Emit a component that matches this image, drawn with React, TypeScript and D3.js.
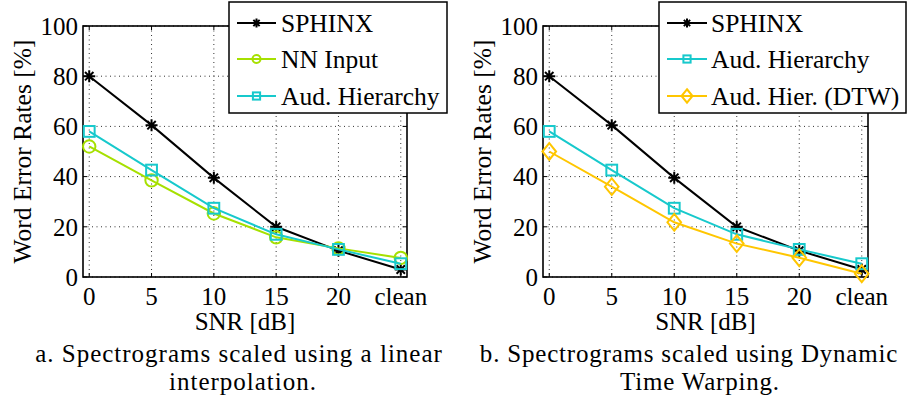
import React from "react";
import * as d3 from "d3";

const categories = ["0", "5", "10", "15", "20", "clean"];
const yTicks = [0, 20, 40, 60, 80, 100];
const sphinx = [80, 60.5, 39.5, 20, 10.5, 3];
const nnInput = [52, 38.5, 25.3, 15.8, 11.4, 7.6];
const audHierarchy = [58, 42.6, 27.4, 17, 11, 5.3];
const audHierDTW = [50, 36, 21.8, 13.3, 7.7, 1.3];

const FONT = "'Liberation Serif', 'Times New Roman', 'DejaVu Serif', serif";
const BLACK = "#000000";
const GREEN = "#A6E000";
const CYAN = "#17C9CC";
const GOLD = "#FFC600";

type Marker = "star" | "circle" | "square" | "diamond";
type Series = { name: string; values: number[]; color: string; marker: Marker };

function MarkerShape({ type, x, y, s, color }: { type: Marker; x: number; y: number; s: number; color: string }) {
  const sw = 2;
  if (type === "star") {
    const d = s * 0.7;
    const p = `M${-s},0L${s},0M0,${-s}L0,${s}M${-d},${-d}L${d},${d}M${-d},${d}L${d},${-d}`;
    return <path d={p} transform={`translate(${x},${y})`} stroke={color} strokeWidth={sw} fill="none" />;
  }
  if (type === "circle") {
    return <circle cx={x} cy={y} r={s} stroke={color} strokeWidth={sw} fill="none" />;
  }
  if (type === "square") {
    return <rect x={x - s} y={y - s} width={2 * s} height={2 * s} stroke={color} strokeWidth={sw} fill="none" />;
  }
  const h = s * 1.35;
  const w = s * 1.1;
  return (
    <path
      d={`M${x},${y - h}L${x + w},${y}L${x},${y + h}L${x - w},${y}Z`}
      stroke={color}
      strokeWidth={sw}
      fill="none"
    />
  );
}

const markerSize: Record<Marker, number> = { star: 6, circle: 6.2, square: 5.4, diamond: 6.2 };
const legendMarkerSize: Record<Marker, number> = { star: 4.5, circle: 4, square: 3.6, diamond: 5 };

function T(props: any) {
  const { size, children, style, ...rest } = props;
  return (
    <text {...rest} fontFamily={FONT} fontSize={size} style={{ fontFamily: FONT, fontSize: size + "px", ...(style || {}) }}>
      {children}
    </text>
  );
}

function Panel({
  left,
  right,
  series,
  legend,
  ylabelX,
  captions,
}: {
  left: number;
  right: number;
  series: Series[];
  legend: { x0: number; x1: number; lineX0: number; lineX1: number; textX: number };
  ylabelX: number;
  captions: { text: string; x: number; y: number; ls: number }[];
}) {
  const top = 26;
  const bottom = 277;
  const x = d3.scaleLinear().domain([-0.1, 5.1]).range([left, right]);
  const y = d3.scaleLinear().domain([0, 100]).range([bottom, top]);
  const line = d3
    .line<number>()
    .x((_, i) => x(i))
    .y((v) => y(v));
  const legendRows = [23, 59, 96];
  return (
    <g>
      {categories.map((_, i) => (
        <line key={"gx" + i} x1={x(i)} x2={x(i)} y1={top} y2={bottom} stroke="#333" strokeWidth={1} strokeDasharray="1,3.5" />
      ))}
      {yTicks.map((t) => (
        <line key={"gy" + t} x1={left} x2={right} y1={y(t)} y2={y(t)} stroke="#333" strokeWidth={1} strokeDasharray="1,3.5" />
      ))}
      {yTicks.map((t) => (
        <g key={"ty" + t}>
          <line x1={left} x2={left + 4} y1={y(t)} y2={y(t)} stroke={BLACK} strokeWidth={1} />
          <line x1={right} x2={right - 4} y1={y(t)} y2={y(t)} stroke={BLACK} strokeWidth={1} />
          <T x={left - 5} y={y(t)} dy="0.35em" textAnchor="end" size={25}>
            {t}
          </T>
        </g>
      ))}
      {categories.map((c, i) => (
        <g key={"tx" + i}>
          <line x1={x(i)} x2={x(i)} y1={bottom} y2={bottom - 4} stroke={BLACK} strokeWidth={1} />
          <line x1={x(i)} x2={x(i)} y1={top} y2={top + 4} stroke={BLACK} strokeWidth={1} />
          <T x={x(i)} y={305} textAnchor="middle" size={25}>
            {c}
          </T>
        </g>
      ))}
      <rect x={left} y={top} width={right - left} height={bottom - top} fill="none" stroke={BLACK} strokeWidth={1.6} />
      {series.map((s) => (
        <g key={s.name}>
          <path d={line(s.values) || ""} fill="none" stroke={s.color} strokeWidth={2} />
          {s.values.map((v, i) => (
            <MarkerShape key={i} type={s.marker} x={x(i)} y={y(v)} s={markerSize[s.marker]} color={s.color} />
          ))}
        </g>
      ))}
      <T
        transform={`translate(${ylabelX},${(top + bottom) / 2}) rotate(-90)`}
        textAnchor="middle"
        dy="0.35em"
        size={25.5}
      >
        Word Error Rates [%]
      </T>
      <T x={(left + right) / 2} y={330} textAnchor="middle" size={25}>
        SNR [dB]
      </T>
      <rect x={legend.x0} y={2} width={legend.x1 - legend.x0} height={111} fill="#fff" stroke={BLACK} strokeWidth={1.5} />
      {series.map((s, k) => (
        <g key={"lg" + s.name}>
          <line x1={legend.lineX0} x2={legend.lineX1} y1={legendRows[k]} y2={legendRows[k]} stroke={s.color} strokeWidth={2} />
          <MarkerShape
            type={s.marker}
            x={(legend.lineX0 + legend.lineX1) / 2}
            y={legendRows[k]}
            s={legendMarkerSize[s.marker]}
            color={s.color}
          />
          <T x={legend.textX} y={legendRows[k] + 9} size={25.5}>
            {s.name}
          </T>
        </g>
      ))}
      {captions.map((c, i) => (
        <T key={"cap" + i} x={c.x} y={c.y} textAnchor="middle" size={25} style={{ letterSpacing: c.ls + "px" }}>
          {c.text}
        </T>
      ))}
    </g>
  );
}

export default function App() {
  const seriesA: Series[] = [
    { name: "SPHINX", values: sphinx, color: BLACK, marker: "star" },
    { name: "NN Input", values: nnInput, color: GREEN, marker: "circle" },
    { name: "Aud. Hierarchy", values: audHierarchy, color: CYAN, marker: "square" },
  ];
  const seriesB: Series[] = [
    { name: "SPHINX", values: sphinx, color: BLACK, marker: "star" },
    { name: "Aud. Hierarchy", values: audHierarchy, color: CYAN, marker: "square" },
    { name: "Aud. Hier. (DTW)", values: audHierDTW, color: GOLD, marker: "diamond" },
  ];
  return (
    <svg width={907} height={403} style={{ position: "absolute", left: 0, top: 0, background: "#fff" }}>
      <rect width={907} height={403} fill="#fff" />
      <Panel
        left={83}
        right={407}
        series={seriesA}
        legend={{ x0: 229, x1: 447, lineX0: 237, lineX1: 276, textX: 281 }}
        ylabelX={22}
        captions={[
          { text: "a. Spectrograms scaled using a linear", x: 239, y: 362, ls: 1 },
          { text: "interpolation.", x: 243, y: 390, ls: 1 },
        ]}
      />
      <Panel
        left={543}
        right={868}
        series={seriesB}
        legend={{ x0: 659, x1: 906, lineX0: 667, lineX1: 707, textX: 711 }}
        ylabelX={482}
        captions={[
          { text: "b. Spectrograms scaled using Dynamic", x: 689, y: 362, ls: 0.8 },
          { text: "Time Warping.", x: 700, y: 390, ls: 0.8 },
        ]}
      />
    </svg>
  );
}
